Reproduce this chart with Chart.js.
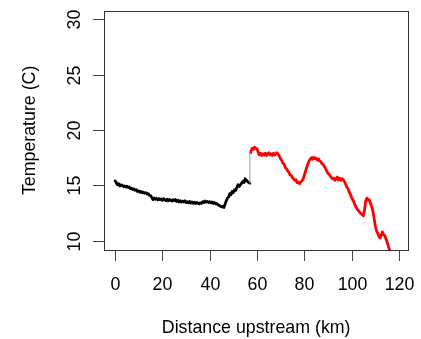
<!DOCTYPE html>
<html>
<head>
<meta charset="utf-8">
<script src="https://cdn.jsdelivr.net/npm/chart.js@4"></script>
<style>
  html, body { margin: 0; padding: 0; background: #fff; }
  #wrap { width: 421px; height: 339px; }
</style>
</head>
<body>
<div id="wrap"><canvas id="temp" width="421" height="339"></canvas></div>
<script>
'use strict';

// downstream reach, logged every 0.5 km (km, °C)
const lowerKm = [0, 0.5, 1, 1.5, 2, 2.5, 3, 3.5, 4, 4.5, 5, 5.5, 6, 6.5, 7, 7.5, 8, 8.5, 9, 9.5,
  10, 10.5, 11, 11.5, 12, 12.5, 13, 13.5, 14, 14.5, 15, 15.5, 16, 16.5, 17, 17.5, 18, 18.5, 19, 19.5,
  20, 20.5, 21, 21.5, 22, 22.5, 23, 23.5, 24, 24.5, 25, 25.5, 26, 26.5, 27, 27.5, 28, 28.5, 29, 29.5,
  30, 30.5, 31, 31.5, 32, 32.5, 33, 33.5, 34, 34.5, 35, 35.5, 36, 36.5, 37, 37.5, 38, 38.5, 39, 39.5,
  40, 40.5, 41, 41.5, 42, 42.5, 43, 43.5, 44, 44.5, 45, 45.5, 46, 46.5, 47, 47.5, 48, 48.5, 49, 49.5,
  50, 50.5, 51, 51.5, 52, 52.5, 53, 53.5, 54, 54.5, 55, 55.5, 56, 56.5, 57];
const lowerTemp = [15.4, 15.25, 15.05, 15.15, 14.95, 15.05, 15.0, 14.9, 14.95, 14.85,
  14.92, 14.8, 14.85, 14.7, 14.75, 14.62, 14.68, 14.55, 14.6, 14.45,
  14.5, 14.38, 14.45, 14.32, 14.38, 14.28, 14.33, 14.22, 14.25, 14.1,
  14.08, 13.9, 13.72, 13.85, 13.75, 13.82, 13.68, 13.8, 13.7, 13.78,
  13.65, 13.8, 13.7, 13.62, 13.75, 13.6, 13.72, 13.65, 13.58, 13.7,
  13.62, 13.72, 13.55, 13.65, 13.5, 13.62, 13.48, 13.58, 13.5, 13.6,
  13.45, 13.52, 13.42, 13.55, 13.4, 13.5, 13.38, 13.48, 13.35, 13.45,
  13.4, 13.32, 13.42, 13.38, 13.52, 13.45, 13.58, 13.48, 13.55, 13.45,
  13.52, 13.42, 13.5, 13.38, 13.45, 13.32, 13.35, 13.25, 13.2, 13.12,
  13.05, 13.1, 13.0, 13.3, 13.6, 13.85, 13.95, 14.25, 14.15, 14.45,
  14.35, 14.6, 14.55, 14.8, 15.05, 14.9, 15.05, 15.2, 15.35, 15.25,
  15.6, 15.45, 15.35, 15.25, 15.2];

// upstream reach
const upperKm = [57.3, 57.5, 58, 58.5, 59, 59.5, 60, 60.5, 61, 61.5, 62, 62.5, 63, 63.5, 64, 64.5,
  65, 65.5, 66, 66.5, 67, 67.5, 68, 68.5, 69, 69.5, 70, 70.5, 71, 71.5, 72, 72.5, 73, 73.5, 74, 74.5,
  75, 75.5, 76, 76.5, 77, 77.5, 78, 78.5, 79, 79.5, 80, 80.5, 81, 81.5, 82, 82.5, 83, 83.5, 84, 84.5,
  85, 85.5, 86, 86.5, 87, 87.5, 88, 88.5, 89, 89.5, 90, 90.5, 91, 91.5, 92, 92.5, 93, 93.5, 94, 94.5,
  95, 95.5, 96, 96.5, 97, 97.5, 98, 98.5, 99, 99.5, 100, 100.5, 101, 101.5, 102, 102.5, 103, 103.5,
  104, 104.5, 105, 105.5, 106, 106.5, 107, 107.5, 108, 108.5, 109, 109.5, 110, 110.5, 111, 111.5,
  112, 112.5, 113, 113.5, 114, 114.5, 115, 115.5, 116, 116.5, 117];
const upperTemp = [17.95, 18.1, 18.35, 18.25, 18.45, 18.35, 18.3, 18.0, 17.75, 17.9, 17.7, 17.85,
  17.75, 17.9, 17.7, 17.85, 17.95, 17.75, 17.85, 17.7, 17.9, 17.75, 17.85, 17.95, 17.8, 17.6,
  17.4, 17.25, 17.0, 16.9, 16.6, 16.5, 16.3, 16.2, 15.95, 15.9, 15.7, 15.6, 15.45, 15.5,
  15.25, 15.3, 15.15, 15.3, 15.4, 15.55, 15.9, 16.25, 16.6, 16.9, 17.2, 17.35, 17.5, 17.35,
  17.55, 17.4, 17.45, 17.3, 17.4, 17.2, 17.15, 16.95, 16.9, 16.7, 16.55, 16.3, 16.1, 16.0,
  15.85, 15.7, 15.6, 15.65, 15.45, 15.6, 15.75, 15.5, 15.65, 15.45, 15.6, 15.5, 15.35, 15.1,
  14.85, 14.7, 14.4, 14.2, 13.9, 13.7, 13.5, 13.2, 13.0, 12.8, 12.7, 12.55, 12.45, 12.35,
  12.25, 12.8, 13.6, 13.85, 13.65, 13.7, 13.4, 13.1, 12.7, 12.1, 11.4, 10.95, 10.7, 10.45,
  10.25, 10.5, 10.8, 10.55, 10.5, 10.2, 9.9, 9.55, 9.2, 8.95, 8.7];

// join between the two reaches
const joinKm = [57, 57];
const joinTemp = [15.2, 18.0];

const xTicks = [0, 20, 40, 60, 80, 100, 120];
const yTicks = [10, 15, 20, 25, 30];
const xTitle = 'Distance upstream (km)';
const yTitle = 'Temperature (C)';

const toPoints = (xs, ys) => xs.map((x, i) => ({ x, y: ys[i] }));
const FONT = '17.8px "Liberation Sans", Arial, sans-serif';

// box, tick marks and labels in the style of a base R plot
const baseAxes = {
  id: 'baseAxes',
  afterDraw(chart) {
    const { ctx, chartArea: a, scales: { x, y } } = chart;
    ctx.save();
    ctx.strokeStyle = '#333';
    ctx.lineWidth = 1;
    ctx.strokeRect(Math.round(a.left) + 0.5, Math.round(a.top) + 0.5,
      Math.round(a.right - a.left), Math.round(a.bottom - a.top));

    ctx.fillStyle = '#000';
    ctx.font = FONT;
    ctx.strokeStyle = '#444';

    ctx.textAlign = 'center';
    ctx.textBaseline = 'alphabetic';
    xTicks.forEach(v => {
      const px = Math.round(x.getPixelForValue(v)) + 0.5;
      ctx.beginPath();
      ctx.moveTo(px, a.bottom);
      ctx.lineTo(px, a.bottom + 11);
      ctx.stroke();
      ctx.fillText(String(v), px, 290);
    });
    ctx.fillText(xTitle, (a.left + a.right) / 2, 333);

    yTicks.forEach(v => {
      const py = Math.round(y.getPixelForValue(v)) + 0.5;
      ctx.beginPath();
      ctx.moveTo(a.left, py);
      ctx.lineTo(a.left - 11, py);
      ctx.stroke();
      ctx.save();
      ctx.translate(80, py);
      ctx.rotate(-Math.PI / 2);
      ctx.fillText(String(v), 0, 0);
      ctx.restore();
    });
    ctx.save();
    ctx.translate(35, (a.top + a.bottom) / 2);
    ctx.rotate(-Math.PI / 2);
    ctx.fillText(yTitle, 0, 0);
    ctx.restore();
    ctx.restore();
  }
};

new Chart(document.getElementById('temp'), {
  type: 'line',
  data: {
    datasets: [
      { data: toPoints(joinKm, joinTemp), borderColor: '#9a9a9a', borderWidth: 1 },
      { data: toPoints(lowerKm, lowerTemp), borderColor: '#000000', borderWidth: 2.8 },
      { data: toPoints(upperKm, upperTemp), borderColor: '#ff0000', borderWidth: 2.8 }
    ]
  },
  options: {
    responsive: false,
    animation: false,
    events: [],
    layout: { padding: { left: 104, right: 12.7, top: 10.7, bottom: 89 } },
    elements: { point: { radius: 0 }, line: { tension: 0, borderJoinStyle: 'round', borderCapStyle: 'round' } },
    plugins: { legend: { display: false }, tooltip: { enabled: false } },
    scales: {
      x: { type: 'linear', min: -4.7, max: 124, display: false },
      y: { type: 'linear', min: 9.16, max: 30.78, display: false }
    }
  },
  plugins: [baseAxes]
});
</script>
</body>
</html>
